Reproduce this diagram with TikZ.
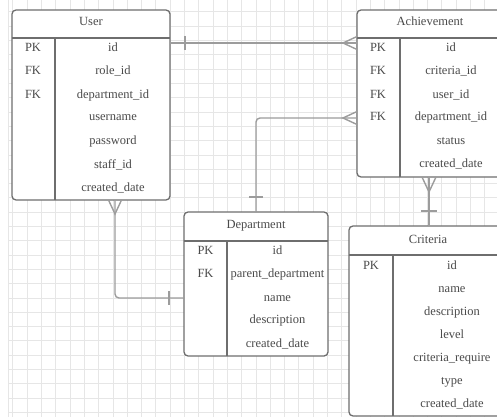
\documentclass[tikz,border=0pt]{standalone}
\usepackage{fontspec}
\setmainfont{Liberation Serif}
\usetikzlibrary{calc}
\definecolor{bdc}{HTML}{6E6E6E}
\definecolor{cnc}{HTML}{9C9C9C}
\definecolor{txc}{HTML}{4A4A4A}
\definecolor{grc}{HTML}{E6E6E6}
\begin{document}
\begin{tikzpicture}[x=1pt,y=-1pt,
  tbl/.style={draw=bdc, line width=1.3pt, rounded corners=4pt, fill=white, inner sep=0pt, outer sep=0pt},
  bd/.style={draw=bdc, line width=1.3pt},
  conn/.style={draw=cnc, line width=1.4pt},
  gridline/.style={draw=grc, line width=0.6pt},
  txt/.style={text=txc, font=\fontsize{12.5}{14}\selectfont, inner sep=0pt, text height=9pt, text depth=3pt, anchor=center}]
\useasboundingbox (0,0) rectangle (497,417);
\clip (0,0) rectangle (497,417);
\fill[white] (0,0) rectangle (497,417);
% grid
\foreach \k in {0,...,34} \draw[gridline] ({12.7+14.3*\k},0) -- ({12.7+14.3*\k},417);
\foreach \k in {0,...,28} \draw[gridline] (8,{11.8+14.3*\k}) -- (497,{11.8+14.3*\k});
\draw[gridline] (8,0) -- (8,417);

% ---------- User ----------
\node[tbl, minimum width=158pt, minimum height=190pt] (user) at (91,105) {};
\draw[bd] (12,38) -- (170,38);
\draw[bd] (55,38) -- (55,200);
\node[txt] (uh) at (91,23) {User};
\node[txt] (uk1) at (33,49) {PK};
\node[txt] (uk2) at (33,72) {FK};
\node[txt] (uk3) at (33,96) {FK};
\node[txt] (uf1) at (113,49) {id};
\node[txt] (uf2) at (113,72) {role\_id};
\node[txt] (uf3) at (113,96) {department\_id};
\node[txt] (uf4) at (113,118) {username};
\node[txt] (uf5) at (113,141) {password};
\node[txt] (uf6) at (113,165) {staff\_id};
\node[txt] (uf7) at (113,188) {created\_date};

% ---------- Achievement ----------
\node[tbl, minimum width=145pt, minimum height=167pt] (ach) at (429.5,93.5) {};
\draw[bd] (357,38) -- (502,38);
\draw[bd] (400,38) -- (400,177);
\node[txt] (ah) at (430,23) {Achievement};
\node[txt] (ak1) at (378,49) {PK};
\node[txt] (ak2) at (378,72) {FK};
\node[txt] (ak3) at (378,96) {FK};
\node[txt] (ak4) at (378,118) {FK};
\node[txt] (af1) at (451,49) {id};
\node[txt] (af2) at (451,72) {criteria\_id};
\node[txt] (af3) at (451,96) {user\_id};
\node[txt] (af4) at (451,118) {department\_id};
\node[txt] (af5) at (451,141) {status};
\node[txt] (af6) at (451,164) {created\_date};

% ---------- Department ----------
\node[tbl, minimum width=144pt, minimum height=144pt] (dept) at (256,284) {};
\draw[bd] (184,241) -- (328,241);
\draw[bd] (227,241) -- (227,356);
\node[txt] (dh) at (256,225) {Department};
\node[txt] (dk1) at (205.5,251) {PK};
\node[txt] (dk2) at (205.5,274) {FK};
\node[txt] (df1) at (277.5,251) {id};
\node[txt] (df2) at (277.5,274) {parent\_department};
\node[txt] (df3) at (277.5,298) {name};
\node[txt] (df4) at (277.5,320) {description};
\node[txt] (df5) at (277.5,344) {created\_date};

% ---------- Criteria ----------
\node[tbl, minimum width=158pt, minimum height=190pt] (crit) at (428,321) {};
\draw[bd] (349,255) -- (507,255);
\draw[bd] (393,255) -- (393,416);
\node[txt] (ch) at (428,240) {Criteria};
\node[txt] (ck1) at (371,266) {PK};
\node[txt] (cf1) at (452,266) {id};
\node[txt] (cf2) at (452,289) {name};
\node[txt] (cf3) at (452,312) {description};
\node[txt] (cf4) at (452,335) {level};
\node[txt] (cf5) at (452,358) {criteria\_require};
\node[txt] (cf6) at (452,381) {type};
\node[txt] (cf7) at (452,404) {created\_date};

% ---------- Connectors ----------
% User -- Achievement
\draw[conn] ($(user.north east)+(0,33)$) -- ($(ach.north west)+(0,33)$);
\draw[conn] ($(user.north east)+(15,26)$) -- ($(user.north east)+(15,40)$);
\draw[conn] ($(ach.north west)+(0,26.5)$) -- ($(ach.north west)+(-14,33)$) -- ($(ach.north west)+(0,39.5)$);

% Department -- Achievement
\draw[conn, rounded corners=4pt] (dept.north) |- ($(ach.north west)+(0,108)$);
\draw[conn] ($(dept.north)+(-7,-15)$) -- ($(dept.north)+(7,-15)$);
\draw[conn] ($(ach.north west)+(0,101.5)$) -- ($(ach.north west)+(-14,108)$) -- ($(ach.north west)+(0,114.5)$);

% User -- Department
\draw[conn, rounded corners=4pt] ($(user.south west)+(103,0)$) |- ($(dept.north west)+(0,86)$);
\draw[conn] ($(user.south west)+(96.5,0)$) -- ($(user.south west)+(103,14)$) -- ($(user.south west)+(109.5,0)$);
\draw[conn] ($(dept.north west)+(-15,79)$) -- ($(dept.north west)+(-15,93)$);

% Achievement -- Criteria
\draw[conn] ($(ach.south west)+(72,0)$) -- ($(crit.north west)+(80,0)$);
\draw[conn] ($(ach.south west)+(65,0)$) -- ($(ach.south west)+(72,15)$) -- ($(ach.south west)+(79,0)$);
\draw[conn] ($(crit.north west)+(72,-15)$) -- ($(crit.north west)+(88,-15)$);
\end{tikzpicture}
\end{document}
